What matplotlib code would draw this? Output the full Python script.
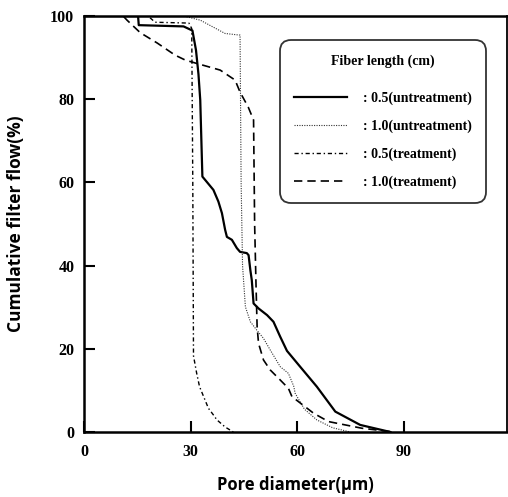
import matplotlib
matplotlib.use("Agg")
import matplotlib.pyplot as plt

# ---- data ----
x_05_untr = [0, 15.2, 15.4, 28.0, 30.5, 31.5, 32.2, 32.7, 33.3, 36.4, 37.8, 38.8, 39.7, 40.2,
             41.6, 43.0, 43.9, 45.8, 46.3, 46.8, 47.2, 47.7, 49.1, 51.5, 53.3, 55.2, 57.1,
             60.8, 65.5, 70.7, 77.7, 86.2]
y_05_untr = [100, 100, 97.8, 97.5, 96.5, 91.8, 86.0, 79.8, 61.4, 58.2, 55.4, 52.6, 48.6, 46.9,
             46.2, 44.2, 43.3, 43.0, 42.5, 38.9, 36.5, 30.9, 29.7, 28.1, 26.5, 22.9, 19.5,
             15.7, 10.9, 4.9, 1.7, 0]

x_10_untr = [0, 28.0, 32.7, 39.7, 43.9, 44.2, 44.6, 45.4, 46.8, 48.6, 50.5, 52.4, 55.2, 57.5,
             59.0, 59.4, 62.0, 65.5, 70.0, 74.9]
y_10_untr = [100, 100, 99.0, 95.8, 95.4, 60.0, 40.0, 30.1, 26.5, 24.5, 22.5, 19.7, 15.7, 14.1,
             11.0, 9.3, 5.5, 2.9, 1.0, 0]

x_05_tr = [0, 18.0, 20.0, 29.5, 30.3, 30.6, 30.8, 31.7, 32.5, 35.0, 36.4, 37.4, 39.7, 42.0]
y_05_tr = [100, 100, 98.5, 98.3, 97.0, 60.0, 18.3, 14.1, 10.9, 5.7, 4.1, 2.9, 1.2, 0]

x_10_tr = [0, 11.0, 12.1, 15.8, 20.6, 25.6, 28.5, 31.3, 38.3, 42.5, 43.9, 46.2, 47.7, 48.0,
           48.4, 48.7, 49.1, 50.5, 52.4, 55.2, 57.5, 58.5, 64.6, 68.8, 78.2, 87.1]
y_10_tr = [100, 100, 99.0, 96.0, 93.5, 90.6, 89.4, 88.7, 87.0, 84.6, 81.7, 78.1, 75.0, 50.0,
           35.0, 25.3, 21.3, 17.3, 14.9, 12.5, 10.5, 8.5, 4.5, 2.5, 0.9, 0]

labels = [": 0.5(untreatment)", ": 1.0(untreatment)", ": 0.5(treatment)", ": 1.0(treatment)"]
legend_title = "Fiber length (cm)"
x_ticks = [0, 30, 60, 90]
y_ticks = [0, 20, 40, 60, 80, 100]

serif = ["Liberation Serif", "DejaVu Serif"]
sans = ["Open Sans", "DejaVu Sans"]

fig = plt.figure(figsize=(5.08, 4.97), dpi=100)
ax = fig.add_axes([0.1654, 0.1308, 0.8326, 0.837])

ax.plot(x_05_untr, y_05_untr, color="black", lw=1.6, ls="-", label=labels[0])
ax.plot(x_10_untr, y_10_untr, color="#333333", lw=0.8, ls=(0, (1, 1.2)), label=labels[1])
ax.plot(x_05_tr, y_05_tr, color="black", lw=1.0, ls=(0, (3, 2, 1, 2)), label=labels[2])
ax.plot(x_10_tr, y_10_tr, color="black", lw=1.2, ls=(0, (5, 3)), label=labels[3])

ax.set_xlim(0, 119)
ax.set_ylim(0, 100)
ax.set_xticks(x_ticks)
ax.set_yticks(y_ticks)
ax.tick_params(direction="in", length=8, width=1.5)
ax.tick_params(axis="x", pad=9)
ax.tick_params(axis="y", pad=7)
for lab in ax.get_xticklabels() + ax.get_yticklabels():
    lab.set_fontfamily(serif)
    lab.set_fontweight("bold")
    lab.set_fontsize(11.5)

for side in ["left", "bottom", "top"]:
    ax.spines[side].set_linewidth(1.8)
ax.spines["right"].set_linewidth(1.3)

ax.set_xlabel("Pore diameter(μm)", fontsize=12, fontweight="bold",
              family=sans, labelpad=11)
ax.set_ylabel("Cumulative filter flow(%)", fontsize=12.5, fontweight="bold",
              family=sans, labelpad=18)

fs = 10
leg = ax.legend(loc="upper left", bbox_to_anchor=(0.463, 0.942), borderaxespad=0,
                frameon=True, fancybox=True, handlelength=3.8, handletextpad=1.2,
                labelspacing=1.05, borderpad=1.0, title=legend_title,
                prop={"family": serif, "weight": "bold", "size": fs})
leg.get_title().set_fontfamily(serif)
leg.get_title().set_fontweight("bold")
leg.get_title().set_fontsize(fs)
leg._legend_box.sep = 1.05 * fs + 6.5
leg.get_frame().set_edgecolor("black")
leg.get_frame().set_linewidth(1.3)
leg.get_frame().set_boxstyle("round", pad=0, rounding_size=0.8)

fig.savefig("out.png", dpi=100)
